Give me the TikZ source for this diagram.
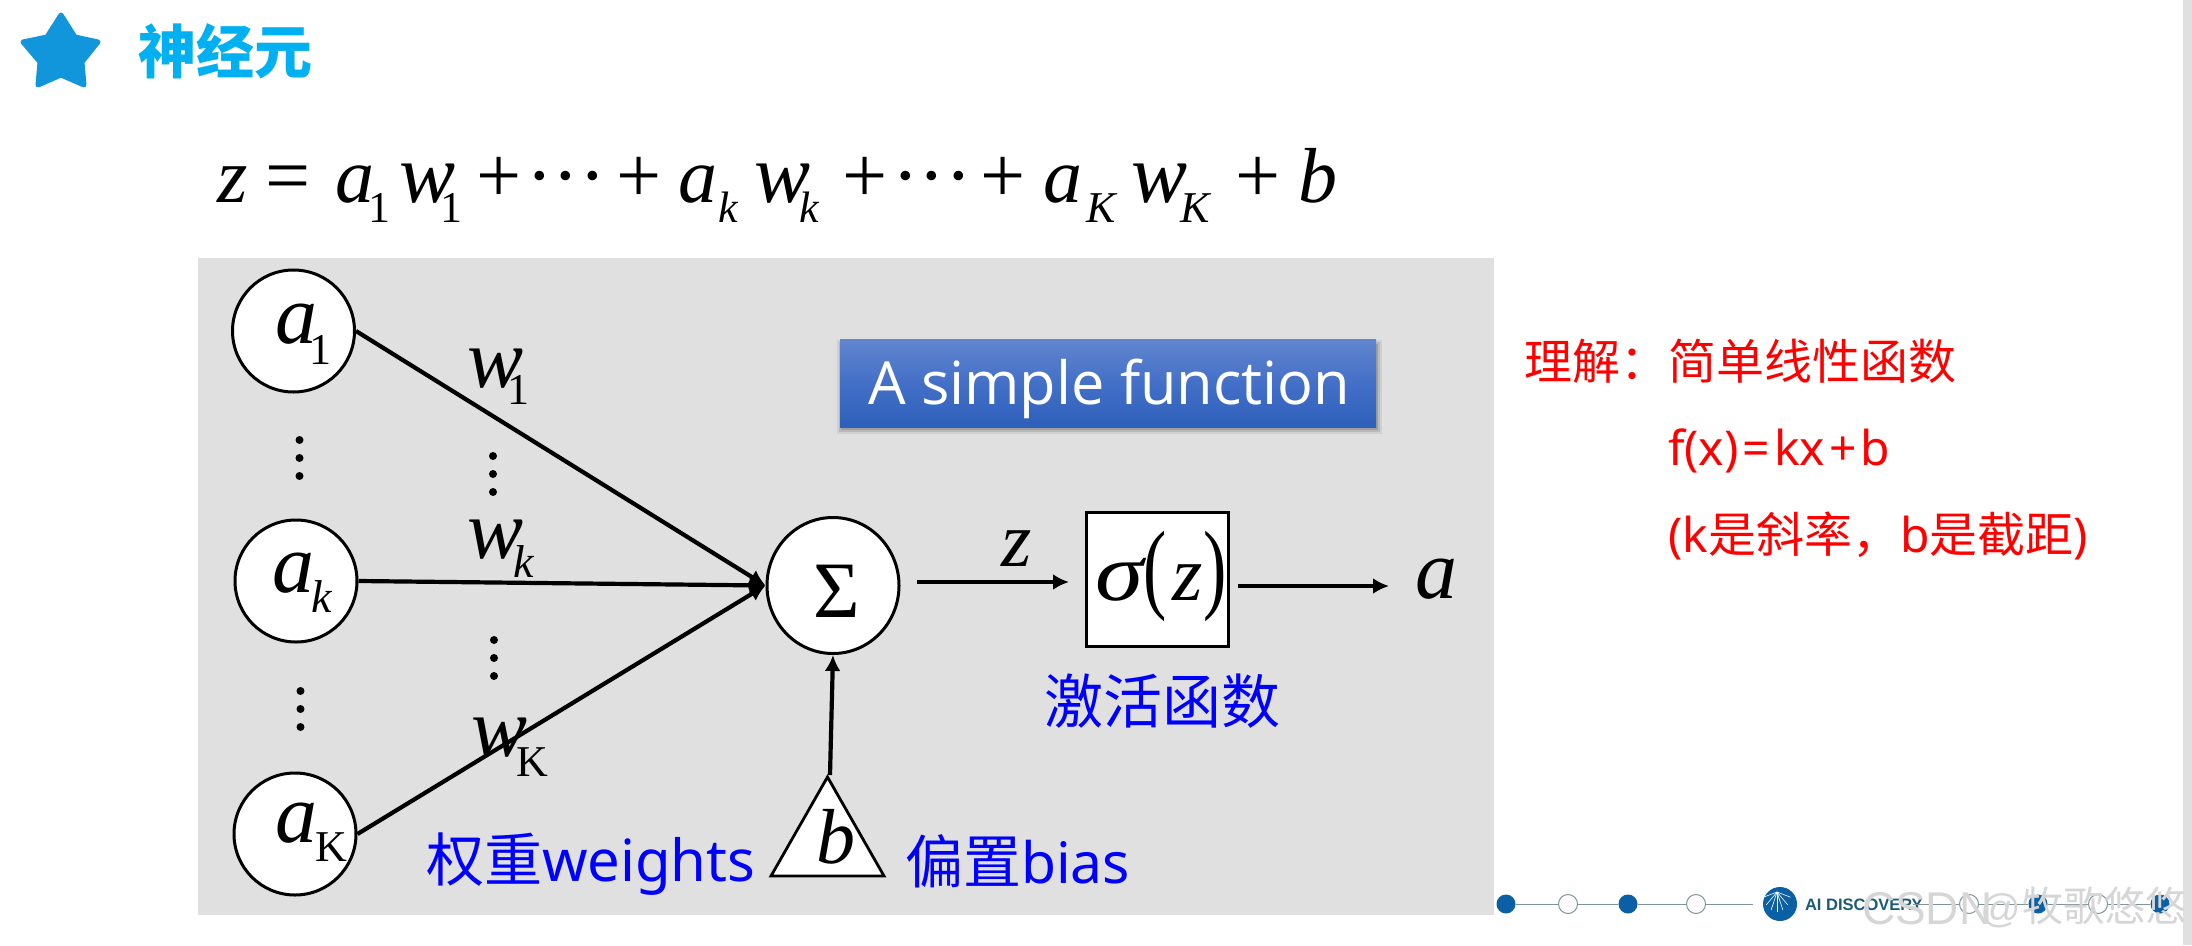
\documentclass[tikz,border=0pt]{standalone}
\usepackage{fontspec}
\usetikzlibrary{arrows.meta,shapes.geometric}
\newfontfamily\serifx{Liberation Serif}
\newfontfamily\cjk{Noto Sans CJK SC}
\newfontfamily\latn{Noto Sans}
\newfontfamily\opens{Open Sans}
\newfontfamily\arialx{Liberation Sans}
\newcommand\fs[1]{\fontsize{#1pt}{#1pt}\selectfont}
\definecolor{panel}{HTML}{E0E0E0}
\definecolor{starblue}{HTML}{1296DB}
\definecolor{titlecyan}{HTML}{00B0F0}
\definecolor{foot}{HTML}{0B5FA5}
\definecolor{footline}{HTML}{7F9498}
\definecolor{footteal}{HTML}{1B5B78}
\definecolor{wm}{HTML}{D6D6D6}
\definecolor{boxtop}{HTML}{6285CF}
\definecolor{boxmid}{HTML}{4370C7}
\definecolor{boxbot}{HTML}{2D60BB}
\tikzset{
  tx/.style={inner sep=0pt,outer sep=0pt,anchor=base west},
  big/.style={tx,font=\serifx\itshape\fs{78}},
  bigger/.style={tx,font=\serifx\itshape\fs{84}},
  bigup/.style={tx,font=\serifx\fs{80}},
  subit/.style={tx,font=\serifx\itshape\fs{46}},
  subup/.style={tx,font=\serifx\fs{44}},
  fsub/.style={tx,font=\serifx\itshape\fs{44}},
  fsubup/.style={tx,font=\serifx\fs{44}},
  circ/.style={ellipse,draw=black,line width=3pt,fill=white,inner sep=0pt},
  conn/.style={line width=4.2pt,-{Latex[length=16pt,width=16pt]}},
  bluelabel/.style={tx,text=blue},
  redlabel/.style={tx,text=red},
  fopen/.style={circle,draw=footline,line width=1pt,fill=white,inner sep=0pt,minimum size=19pt},
  ffill/.style={circle,fill=foot,inner sep=0pt,minimum size=19pt},
  fline/.style={footline,line width=1pt},
}
\begin{document}
\begin{tikzpicture}[x=1pt,y=-1pt]
\useasboundingbox (0,0) rectangle (2192,945);
\fill[white] (0,0) rectangle (2192,945);
\fill[panel] (2183,0) rectangle (2192,945);
% title
\fill[starblue,draw=starblue,line width=5pt,line join=round]
  (61,15) -- (75,37) -- (98,42) -- (82,62) -- (84,85) -- (61,75) -- (38,85) -- (40,62) -- (23,42) -- (47,37) -- cycle;
\node[tx,font=\cjk\bfseries\fs{58},text=titlecyan] (title) at (138,73) {神经元};
% formula
\node[big] (fz) at (217,202) {z};
\node[bigup] (feq) at (265,202) {=};
\node[big] (fa1) at (335,202) {a};
\node[fsubup] (fa1s) at (368,222) {1};
\node[bigger] (fw1) at (399,202) {w};
\node[fsubup] (fw1s) at (440,222) {1};
\node[bigup] (fp1) at (476,202) {+};
\node[bigup] (fd1) at (526,202) {···};
\node[bigup] (fp2) at (616,202) {+};
\node[big] (fa2) at (678,202) {a};
\node[fsub] (fa2s) at (718,222) {k};
\node[bigger] (fw2) at (754,202) {w};
\node[fsub] (fw2s) at (799,222) {k};
\node[bigup] (fp3) at (842,202) {+};
\node[bigup] (fd2) at (892,202) {···};
\node[bigup] (fp4) at (980,202) {+};
\node[big] (fa3) at (1043,202) {a};
\node[fsub] (fa3s) at (1086,222) {K};
\node[bigger] (fw3) at (1131,202) {w};
\node[fsub] (fw3s) at (1180,222) {K};
\node[bigup] (fp5) at (1235,202) {+};
\node[big] (fb) at (1298,202) {b};
% panel
\fill[panel] (198,258) rectangle (1494,915);
% nodes
\node[circ,minimum width=122pt,minimum height=122pt] (a1) at (293.5,331) {};
\node[circ,minimum width=122pt,minimum height=122pt] (ak) at (296,581) {};
\node[circ,minimum width=122pt,minimum height=122pt] (aK) at (295,834) {};
\node[circ,minimum width=132pt,minimum height=136pt] (sum) at (833,585.5) {};
\node[draw=black,line width=2.8pt,fill=white,minimum width=142pt,minimum height=134pt,inner sep=0pt] (act) at (1157.5,579.5) {};
\draw[black,line width=2.8pt,fill=white,line join=miter] (827.5,777) -- (884,876) -- (771,876) -- cycle;
\coordinate (bias) at (830,775);
\coordinate (zout) at (1069,582);
\coordinate (zin) at (917,582);
\coordinate (aout) at (1389,586);
\coordinate (ain) at (1238,586);
% connectors
\draw[conn] (a1.east) -- (sum.west);
\draw[conn] (ak.east) -- (sum.west);
\draw[conn] (aK.east) -- (sum.west);
\draw[conn] (bias) -- (sum.south);
\draw[conn] (zin) -- (zout);
\draw[conn] (ain) -- (aout);
% node text
\node[bigger] (ta1) at (275,343) {a};
\node[subup] (ta1s) at (309,364) {1};
\node[bigger] (tak) at (272,592.5) {a};
\node[subit] (taks) at (311,612) {k};
\node[bigger] (taK) at (275,842) {a};
\node[subup] (taKs) at (315,861) {K};
\node[bigup] (tsum) at (813,617) {Σ};
\node[tx,font=\serifx\itshape\fs{78}] (tsig) at (1095,600) {\scalebox{1.25}[1.05]{σ}};
\node[tx,font=\serifx\fs{100}] (tpl) at (1143,600) {\scalebox{0.7}[1]{(}};
\node[big] (tz) at (1172,600) {z};
\node[tx,font=\serifx\fs{100}] (tpr) at (1203,600) {\scalebox{0.7}[1]{)}};
\node[big] (tlz) at (1001,566) {z};
\node[bigger] (tla) at (1415,598) {a};
\node[big] (tb) at (816,863) {b};
% weights
\node[bigger] (lw1) at (467,387) {w};
\node[subup] (lw1s) at (507,404) {1};
\node[bigger] (lwk) at (467,558) {w};
\node[subit] (lwks) at (513,577) {k};
\node[bigger] (lwK) at (471,756) {w};
\node[subup] (lwKs) at (516,776) {K};
% dots
\foreach \x/\y in {299.5/440,299.5/458,299.5/476,300.5/691,300.5/709,300.5/727,493/456,493/474,493/492,494/640,494/658,494/676}
  \fill[black] (\x,\y) circle (4pt);
% blue labels
\node[bluelabel] (lweights) at (426,881) {{\cjk\fs{58}权重}{\latn\fs{58}weights}};
\node[bluelabel] (lbias) at (905,883) {{\cjk\fs{58}偏置}{\latn\fs{57}bias}};
\node[bluelabel,font=\cjk\fs{59}] (lact) at (1044,723) {激活函数};
% simple-function box
\foreach \d/\o in {5/.07,3/.10,1/.14}
  \fill[black,opacity=\o] (842-\d,345-\d) rectangle (1377+\d,429+\d);
\node[rectangle,inner sep=0pt,minimum width=536pt,minimum height=88pt,top color=boxtop,bottom color=boxbot,middle color=boxmid] (fbox) at (1108,383) {};
\node[tx,text=white,font=\opens\fs{59.5}] (fboxt) at (868,404) {A simple function};
% red text
\node[redlabel,font=\cjk\fs{48}] (r1) at (1524,379) {理解：简单线性函数};
\node[redlabel] (r2) at (1668,465) {\latn\fs{48}f(x)\kern4pt=\kern4pt kx\kern4pt+\kern4pt b};
\node[redlabel] (r3) at (1668,552) {{\latn\fs{48}(k}{\cjk\fs{48}是斜率，}{\latn\fs{48}b}{\cjk\fs{48}是截距}{\latn\fs{48})}};
% footer
\node[ffill] (c1) at (1506,904) {};
\node[fopen] (c2) at (1568,904) {};
\node[ffill] (c3) at (1628,904) {};
\node[fopen] (c4) at (1696,904) {};
\coordinate (c5) at (1753,904);
\node[circle,fill=foot,inner sep=0pt,minimum size=34pt] (logo) at (1780,904) {};
\foreach \a in {15,40,65,90,115,140,165}
  \draw[white,line width=.6pt] (1777,892) -- +({-cos(\a)*14},{sin(\a)*20});
\node[tx,font=\arialx\bfseries\fs{16.5},text=footteal] (ai) at (1805,910) {AI DISCOVERY};
\coordinate (c6) at (1913,904);
\node[fopen] (c7) at (1969,904) {};
\node[ffill] (c8) at (2038,904) {};
\node[fopen] (c9) at (2098,904) {};
\node[ffill] (c10) at (2160,904) {};
\draw[fline] (c1) -- (c2);
\draw[fline] (c2) -- (c3);
\draw[fline] (c3) -- (c4);
\draw[fline] (c4) -- (c5);
\draw[fline] (c6) -- (c7);
\draw[fline] (c7) -- (c8);
\draw[fline] (c8) -- (c9);
\draw[fline] (c9) -- (c10);
% watermark
\node[tx,text=wm,font=\arialx\fs{46}] (wm1) at (1862,924) {CSDN};
\node[tx,text=wm,font=\arialx\fs{40}] (wm2) at (1980,922) {@};
\node[tx,text=wm,font=\cjk\fs{41}] (wm3) at (2022,921) {牧歌悠悠};
\end{tikzpicture}
\end{document}
